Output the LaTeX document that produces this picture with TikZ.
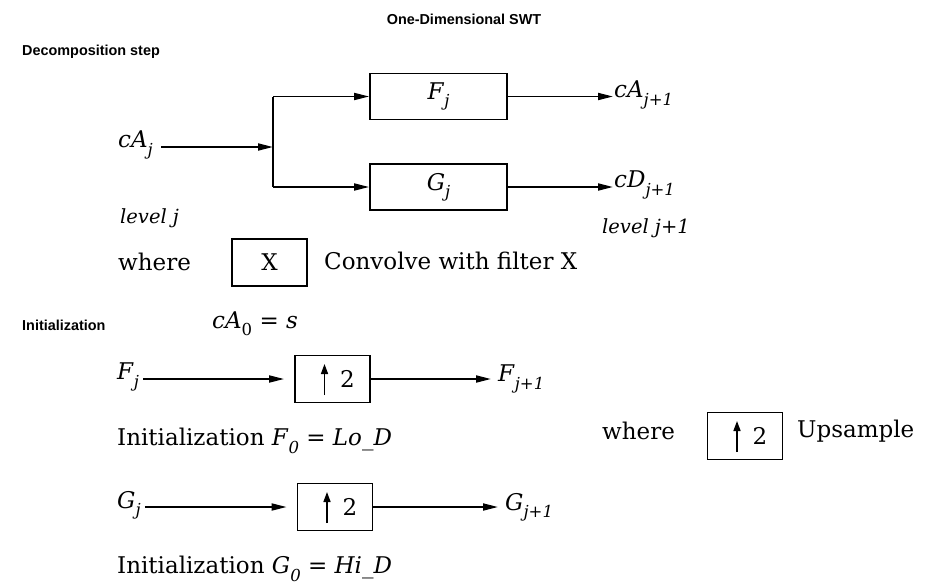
\documentclass[tikz,border=0pt]{standalone}
\usepackage{fontspec}
\setmainfont{DejaVu Serif}
\newfontfamily\headfont{Liberation Sans}
\usetikzlibrary{arrows.meta}
\newcommand{\sbs}[1]{\raisebox{-0.32em}{\fontsize{16.5}{16.5}\selectfont #1}}
\newcommand{\iv}[1]{\textit{#1}}
\begin{document}
\begin{tikzpicture}[x=1pt,y=-1pt,
  txt/.style={font=\fontsize{23}{27}\selectfont, inner sep=1pt, anchor=west},
  lvl/.style={font=\itshape\fontsize{19.5}{23}\selectfont, inner sep=1pt, anchor=west},
  head/.style={font=\headfont\bfseries\fontsize{14.4}{17}\selectfont, inner sep=0pt},
  filt/.style={draw, line width=1.8pt, minimum width=137pt, minimum height=46pt, inner sep=0pt, font=\fontsize{23}{27}\selectfont},
  sbox/.style={draw, line width=1.8pt, minimum width=75pt, minimum height=47pt, inner sep=0pt, font=\fontsize{23}{27}\selectfont},
  arr/.style={line width=1.8pt, -{Triangle[length=15pt,width=7pt]}},
  ln/.style={line width=1.8pt},
  uparr/.style={line width=1.5pt, -{Triangle[length=10pt,width=7pt]}},
]
\useasboundingbox (0,0) rectangle (928,587);

\node[head] (title) at (464,19) {One-Dimensional SWT};
\node[head, anchor=west] (dec) at (22,52) {Decomposition step};

% decomposition
\node[filt] (F) at (438.5,96.5) {\iv{F}\sbs{\iv{j}}};
\node[filt] (G) at (438.5,187) {\iv{G}\sbs{\iv{j}}};
\node[txt] (cAj) at (117,145) {\iv{cA}\sbs{\iv{j}}};
\coordinate (br) at (273,147);
\draw[arr] (cAj.east |- br) ++(7pt,0) -- (br);
\draw[ln] (br |- F.west) -- (br |- G.west);
\draw[arr] (br |- F.west) -- (F.west);
\draw[arr] (br |- G.west) -- (G.west);
\node[txt] (cA1) at (613,95) {\iv{cA}\sbs{\iv{j+1}}};
\node[txt] (cD1) at (613,185) {\iv{cD}\sbs{\iv{j+1}}};
\draw[arr] (F.east) -- (F.east -| cA1.west);
\draw[arr] (G.east) -- (G.east -| cD1.west);
\node[lvl] (lvj) at (119,218) {level j};
\node[lvl] (lvj1) at (601,228) {level j+1};

\node[txt] (where1) at (117,262) {where};
\node[sbox] (X) at (269.5,262.5) {X};
\node[txt] (conv) at (323,261) {Convolve with filter X};

% initialization
\node[head, anchor=west] (init) at (22,325) {Initialization};
\node[txt] (cA0) at (211,324) {\iv{cA}\sbs{0} = \iv{s}};

\node[sbox] (U1) at (332.5,379) {};
\node[txt, anchor=center] (U1n) at ([xshift=15pt]U1.center) {2};
\draw[uparr] ([xshift=-8pt,yshift=-16pt]U1.center) -- ([xshift=-8pt,yshift=15pt]U1.center);
\node[txt] (Fj) at (116,377) {\iv{F}\sbs{\iv{j}}};
\node[txt] (Fj1) at (497,379) {\iv{F}\sbs{\iv{j+1}}};
\draw[arr] ([xshift=3pt]Fj.east |- U1.west) -- ([xshift=-10pt]U1.west);
\draw[arr] (U1.east) -- ([xshift=-6pt]U1.east -| Fj1.west);

\node[txt] (initF) at (116,441) {Initialization \iv{F}\sbs{\iv{0}} = \iv{Lo\_D}};

\node[sbox] (U2) at (335,507) {};
\node[txt, anchor=center] (U2n) at ([xshift=15pt]U2.center) {2};
\draw[uparr] ([xshift=-8pt,yshift=-16pt]U2.center) -- ([xshift=-8pt,yshift=15pt]U2.center);
\node[txt] (Gj) at (116,505) {\iv{G}\sbs{\iv{j}}};
\node[txt] (Gj1) at (504,507) {\iv{G}\sbs{\iv{j+1}}};
\draw[arr] ([xshift=3pt]Gj.east |- U2.west) -- ([xshift=-10pt]U2.west);
\draw[arr] (U2.east) -- ([xshift=-6pt]U2.east -| Gj1.west);

\node[txt] (initG) at (116,569) {Initialization \iv{G}\sbs{\iv{0}} = \iv{Hi\_D}};

\node[txt] (where2) at (601,431) {where};
\node[sbox] (U3) at (745,436) {};
\node[txt, anchor=center] (U3n) at ([xshift=15pt]U3.center) {2};
\draw[uparr] ([xshift=-8pt,yshift=-16pt]U3.center) -- ([xshift=-8pt,yshift=15pt]U3.center);
\node[txt] (ups) at (796,431) {Upsample};
\end{tikzpicture}
\end{document}
